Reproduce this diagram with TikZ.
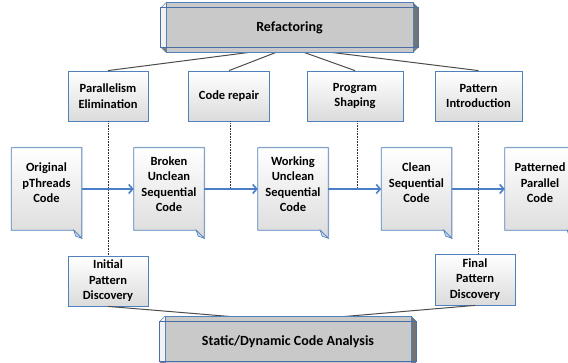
\documentclass[tikz,border=0pt]{standalone}
\usepackage{fontspec}
\setmainfont{Carlito}
\usetikzlibrary{arrows.meta,calc}
\definecolor{bblue}{HTML}{4F81BD}
\definecolor{dblue}{HTML}{4A6FA5}
\definecolor{abl}{HTML}{4A7EC8}
\definecolor{bevfill}{HTML}{C9C9C9}
\tikzset{
  stage/.style={draw=bblue, line width=0.8pt, top color=white, bottom color=black!14,
    align=center, font=\fontsize{12.5}{15.5}\selectfont\bfseries, inner sep=0pt},
  docnode/.style={align=center, font=\fontsize{12.5}{15.5}\selectfont\bfseries, inner sep=0pt,
    minimum width=70pt, minimum height=82pt},
  bevnode/.style={align=center, font=\fontsize{14}{16}\selectfont\bfseries, inner sep=0pt},
  flow/.style={abl, line width=1.6pt, -{Straight Barb[length=4pt,width=9pt,line width=1.6pt]}},
  link/.style={black!70, line width=1pt},
  dots/.style={black!80, line width=0.6pt, densely dotted},
}
\newcommand{\docshape}[1]{%
  \fill[black!12] ($(#1.north west)+(1.2,-1.2)$) -- ($(#1.north east)+(1.2,-1.2)$) -- ($(#1.south east)+(1.2,6.8)$) -- ($(#1.south east)+(-6.8,-1.2)$) -- ($(#1.south west)+(1.2,-1.2)$) -- cycle;
  \shade[top color=white, bottom color=black!14, draw=bblue, line width=0.8pt]
    (#1.north west) -- (#1.north east) -- ($(#1.south east)+(0,8)$) -- ($(#1.south east)+(-8,0)$) -- (#1.south west) -- cycle;
  \filldraw[fill=bblue!30, draw=bblue, line width=0.6pt]
    ($(#1.south east)+(0,8)$) -- ($(#1.south east)+(-8,0)$) -- ($(#1.south east)+(-6,6)$) -- cycle;
}
\newcommand{\bevshape}[1]{%
  \fill[black!30] ($(#1.north west)+(0,0)$) -- ($(#1.north east)$) -- ($(#1.north east)+(-5,-5)$) -- ($(#1.north west)+(5,-5)$) -- cycle;
  \fill[black!5] (#1.north west) -- ($(#1.north west)+(5,-5)$) -- ($(#1.south west)+(5,5)$) -- (#1.south west) -- cycle;
  \fill[black!55] (#1.north east) -- (#1.south east) -- ($(#1.south east)+(-5,5)$) -- ($(#1.north east)+(-5,-5)$) -- cycle;
  \fill[black!50] (#1.south west) -- (#1.south east) -- ($(#1.south east)+(-5,5)$) -- ($(#1.south west)+(5,5)$) -- cycle;
  \filldraw[fill=bevfill, draw=bblue, line width=0.6pt] ($(#1.north west)+(5,-5)$) rectangle ($(#1.south east)+(-5,5)$);
  \draw[dblue, line width=0.8pt] (#1.north west) rectangle (#1.south east);
  \draw[dblue, line width=0.4pt] (#1.north west) -- ($(#1.north west)+(5,-5)$) (#1.north east) -- ($(#1.north east)+(-5,-5)$)
    (#1.south west) -- ($(#1.south west)+(5,5)$) (#1.south east) -- ($(#1.south east)+(-5,5)$);
}
\begin{document}
\begin{tikzpicture}[x=1pt,y=-1pt]
\useasboundingbox (0,0) rectangle (568,363);
\node[bevnode, minimum width=257pt, minimum height=39pt] (ref) at (289.5,27.5) {};
\node[bevnode, minimum width=256pt, minimum height=40pt] (sda) at (288,341.5) {};
\node[stage, minimum width=80pt, minimum height=50pt] (pe) at (108,96) {Parallelism\\Elimination};
\node[stage, minimum width=81pt, minimum height=50pt] (cr) at (229,96) {Code repair};
\node[stage, minimum width=96pt, minimum height=50pt] (ps) at (355,96) {Program\\Shaping};
\node[stage, minimum width=87pt, minimum height=50pt] (pi) at (478.5,96) {Pattern\\Introduction};
\node[stage, minimum width=80pt, minimum height=50pt] (ipd) at (108,281) {Initial\\Pattern\\Discovery};
\node[stage, minimum width=80pt, minimum height=51pt] (fpd) at (475,279.5) {Final\\Pattern\\Discovery};
\draw[link] (ref.south) -- (pe.north);
\draw[link] (ref.south) -- (cr.north);
\draw[link] (ref.south) -- (ps.north);
\draw[link] (ref.south) -- (pi.north);
\draw[link] (ipd.south) -- (sda.north);
\draw[link] (fpd.south) -- (sda.north);
\bevshape{ref}
\bevshape{sda}
\node[bevnode] at (ref.center) {Refactoring};
\node[bevnode] at (sda.center) {Static/Dynamic Code Analysis};
% documents
\node[docnode] (orig) at (46.5,189) {};
\node[docnode] (brk) at (169,189) {};
\node[docnode] (wrk) at (293,189) {};
\node[docnode] (cln) at (416.5,189) {};
\node[docnode] (pat) at (540,189) {};
\docshape{orig}\docshape{brk}\docshape{wrk}\docshape{cln}\docshape{pat}
\node[docnode] at ($(orig.center)+(0,-6)$) {Original\\pThreads\\Code};
\node[docnode] at ($(brk.center)+(0,-5)$) {Broken\\Unclean\\Sequential\\Code};
\node[docnode] at ($(wrk.center)+(0,-5)$) {Working\\Unclean\\Sequential\\Code};
\node[docnode] at ($(cln.center)+(0,-6)$) {Clean\\Sequential\\Code};
\node[docnode] at ($(pat.center)+(0,-6)$) {Patterned\\Parallel\\Code};
% dotted lines
\coordinate (crtop) at ($(cr.south)+(1,0)$);
\coordinate (pstop) at ($(ps.south)+(2,0)$);
\coordinate (crend) at (crtop |- brk.east);
\coordinate (psend) at (pstop |- wrk.east);
\draw[dots] (pe.south) -- (ipd.north);
\draw[dots] (crtop) -- (crend);
\draw[dots] (pstop) -- (psend);
\draw[dots] (pi.south) -- (pi.south |- fpd.north);
% flow arrows
\draw[flow] (orig.east) -- (brk.west);
\draw[flow] (brk.east) -- (wrk.west);
\draw[flow] (wrk.east) -- (cln.west);
\draw[flow] (cln.east) -- (pat.west);
\end{tikzpicture}
\end{document}
